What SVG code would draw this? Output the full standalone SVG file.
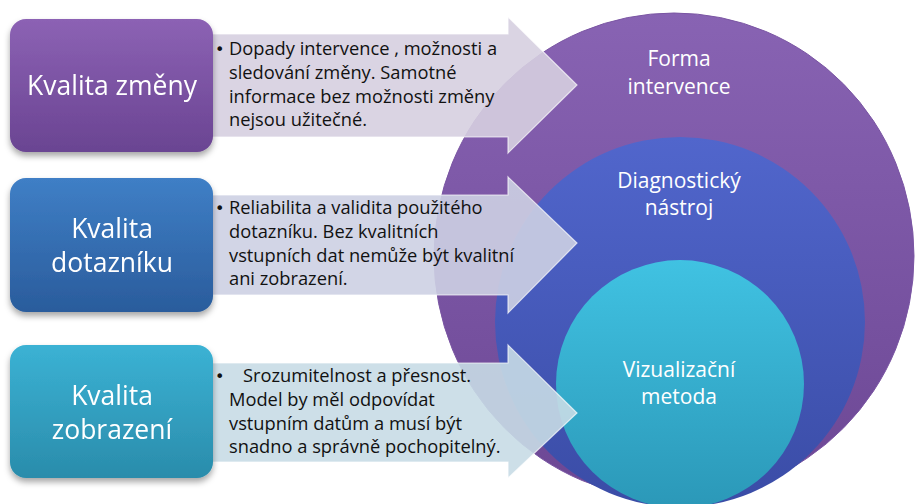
<svg xmlns="http://www.w3.org/2000/svg" width="915" height="504" viewBox="0 0 915 504">
<style>
.lbl{font-family:"Open Sans","Noto Sans","DejaVu Sans",sans-serif;fill:#ffffff;text-anchor:middle}
.big{font-size:26.5px}
.ctext{font-size:21px}
.atext{font-family:"Open Sans","Noto Sans","DejaVu Sans",sans-serif;font-size:18.3px;fill:#111111}
.bul{font-family:"DejaVu Sans",sans-serif;font-size:16px;fill:#111111}
.arrow{stroke:#ffffff;stroke-width:1.2;stroke-opacity:0.7}
</style>
<defs>
<linearGradient id="gPurple" x1="0" y1="0" x2="0" y2="1"><stop offset="0" stop-color="#8c62b4"/><stop offset="1" stop-color="#6a4492"/></linearGradient>
<linearGradient id="gBlue" x1="0" y1="0" x2="0" y2="1"><stop offset="0" stop-color="#3f7fc6"/><stop offset="1" stop-color="#2a5c9c"/></linearGradient>
<linearGradient id="gTeal" x1="0" y1="0" x2="0" y2="1"><stop offset="0" stop-color="#3bb2d4"/><stop offset="1" stop-color="#2a8cab"/></linearGradient>
<linearGradient id="cPurple" x1="0" y1="0" x2="0" y2="1"><stop offset="0" stop-color="#8863b3"/><stop offset="1" stop-color="#6c4794"/></linearGradient>
<linearGradient id="cBlue" x1="0" y1="0" x2="0" y2="1"><stop offset="0" stop-color="#5166cc"/><stop offset="1" stop-color="#3a4ca6"/></linearGradient>
<linearGradient id="cCyan" x1="0" y1="0" x2="0" y2="1"><stop offset="0" stop-color="#40c2e2"/><stop offset="1" stop-color="#2b98b8"/></linearGradient>
<filter id="sh" x="-10%" y="-10%" width="125%" height="130%"><feDropShadow dx="0" dy="4" stdDeviation="3" flood-color="#000" flood-opacity="0.35"/></filter>
</defs>

<g id="circles">
<g id="circle-forma">
<ellipse cx="674" cy="256" rx="240" ry="243" fill="url(#cPurple)" stroke="#7a55a3" stroke-width="1"/>
<text class="lbl ctext" x="679" y="66">Forma</text>
<text class="lbl ctext" x="679" y="94">intervence</text>
</g>
<g id="circle-diag">
<circle cx="680" cy="322" r="185" fill="url(#cBlue)"/>
<text class="lbl ctext" x="679" y="188">Diagnostický</text>
<text class="lbl ctext" x="679" y="215">nástroj</text>
</g>
<g id="circle-viz">
<circle cx="680" cy="384" r="124" fill="url(#cCyan)"/>
<text class="lbl ctext" x="679" y="377">Vizualizační</text>
<text class="lbl ctext" x="679" y="404">metoda</text>
</g>
</g>

<g id="connectors">
<g id="arrow1">
<polygon class="arrow" points="200,34 508,34 508,17 577,85 508,153 508,137 200,137" fill="#d6cfe0" fill-opacity="0.9"/>
<text class="bul" x="215" y="55">•</text>
<text class="atext" x="229" y="55">Dopady intervence , možnosti a</text>
<text class="atext" x="229" y="79">sledování změny. Samotné</text>
<text class="atext" x="229" y="103">informace bez možnosti změny</text>
<text class="atext" x="229" y="126">nejsou užitečné.</text>
</g>
<g id="arrow2">
<polygon class="arrow" points="200,195 508,195 508,177 577,243 508,313 508,295 200,295" fill="#cdd0e3" fill-opacity="0.9"/>
<text class="bul" x="215" y="214">•</text>
<text class="atext" x="229" y="214">Reliabilita a validita použitého</text>
<text class="atext" x="229" y="238">dotazníku. Bez kvalitních</text>
<text class="atext" x="229" y="262">vstupních dat nemůže být kvalitní</text>
<text class="atext" x="229" y="285">ani zobrazení.</text>
</g>
<g id="arrow3">
<polygon class="arrow" points="200,363 508,363 508,345 577,413 508,478 508,462 200,462" fill="#c8dce5" fill-opacity="0.9"/>
<text class="bul" x="215" y="382">•</text>
<text class="atext" x="243" y="382">Srozumitelnost a přesnost.</text>
<text class="atext" x="229" y="406">Model by měl odpovídat</text>
<text class="atext" x="229" y="430">vstupním datům a musí být</text>
<text class="atext" x="229" y="453">snadno a správně pochopitelný.</text>
</g>
</g>

<g id="box1" filter="url(#sh)">
<rect x="10" y="19" width="203" height="133" rx="16" fill="url(#gPurple)"/>
<text class="lbl big" x="112" y="95">Kvalita změny</text>
</g>
<g id="box2" filter="url(#sh)">
<rect x="10" y="178" width="203" height="134" rx="16" fill="url(#gBlue)"/>
<text class="lbl big" x="112" y="238">Kvalita</text>
<text class="lbl big" x="112" y="272">dotazníku</text>
</g>
<g id="box3" filter="url(#sh)">
<rect x="10" y="345" width="203" height="133" rx="16" fill="url(#gTeal)"/>
<text class="lbl big" x="112" y="405">Kvalita</text>
<text class="lbl big" x="112" y="439">zobrazení</text>
</g>
</svg>
